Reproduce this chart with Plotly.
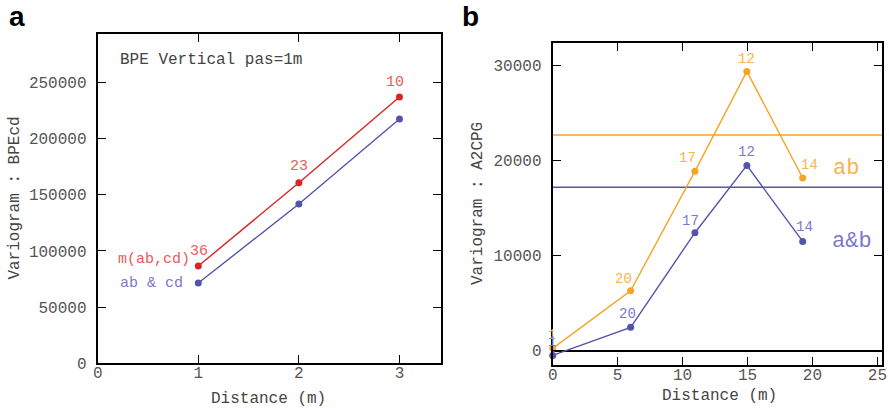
import plotly.graph_objects as go

# Panel a data
dist_a = [1, 2, 3]
m_abcd = [86500, 160700, 236900]
ab_cd = [71400, 141700, 217300]
npairs_a = ["36", "23", "10"]
ticks_a_x = [0, 1, 2, 3]
ticks_a_y = [0, 50000, 100000, 150000, 200000, 250000]

# Panel b data
dist_b = [0, 6.0, 10.95, 14.95, 19.25]
ab_b = [250, 6300, 18880, 29400, 18180]
a_and_b = [-500, 2460, 12420, 19500, 11500]
npairs_b = ["1", "20", "17", "12", "14"]
sill_ab = 22700
sill_a_and_b = 17200
ticks_b_x = [0, 5, 10, 15, 20, 25]
ticks_b_y = [0, 10000, 20000, 30000]

RED = "#dc2424"
RED_T = "#ec5a5a"
BLUE = "#5454ac"
BLUE_T = "#7a7acc"
ORANGE = "#f5a523"
ORANGE_T = "#f7b44c"
MONO = "Liberation Mono"
TICKC = "#555555"

fig = go.Figure()

fig.add_trace(go.Scatter(x=dist_a, y=ab_cd, mode="lines+markers",
                         line=dict(color=BLUE, width=1.4), marker=dict(color=BLUE, size=7),
                         xaxis="x", yaxis="y", showlegend=False))
fig.add_trace(go.Scatter(x=dist_a, y=m_abcd, mode="lines+markers",
                         line=dict(color=RED, width=1.4), marker=dict(color=RED, size=7),
                         xaxis="x", yaxis="y", showlegend=False))

fig.add_trace(go.Scatter(x=[0, 25.4], y=[sill_ab, sill_ab], mode="lines",
                         line=dict(color=ORANGE, width=1.4), xaxis="x2", yaxis="y2", showlegend=False))
fig.add_trace(go.Scatter(x=[0, 25.4], y=[sill_a_and_b, sill_a_and_b], mode="lines",
                         line=dict(color=BLUE, width=1.4), xaxis="x2", yaxis="y2", showlegend=False))
fig.add_trace(go.Scatter(x=dist_b, y=ab_b, mode="lines+markers",
                         line=dict(color=ORANGE, width=1.4), marker=dict(color=ORANGE, size=7),
                         xaxis="x2", yaxis="y2", showlegend=False, cliponaxis=False))
fig.add_trace(go.Scatter(x=dist_b, y=a_and_b, mode="lines+markers",
                         line=dict(color=BLUE, width=1.4), marker=dict(color=BLUE, size=7),
                         xaxis="x2", yaxis="y2", showlegend=False, cliponaxis=False))

ann = []
def lab(x, y, t, color, xs, ys, xr="x", yr="y", size=14, xanchor="center"):
    ann.append(dict(x=x, y=y, text=t, xref=xr, yref=yr, showarrow=False,
                    xshift=xs, yshift=ys, xanchor=xanchor, yanchor="middle",
                    font=dict(family=MONO, size=size, color=color)))

# panel a labels
shifts_a = [(1, 15), (0, 16), (-4, 15)]
for x, y, t, (xs, ys) in zip(dist_a, m_abcd, npairs_a, shifts_a):
    lab(x, y, t, RED_T, xs, ys, size=15)
lab(dist_a[0], m_abcd[0], "m(ab,cd)", RED_T, -6, 7, size=15, xanchor="right")
lab(dist_a[0], ab_cd[0], "ab &amp; cd", BLUE_T, -13, 0, size=15, xanchor="right")
lab(0.2, 269800, "BPE Vertical pas=1m", "#444444", 0, 0, size=16, xanchor="left")

# panel b labels
shifts_bo = [(-1, 13), (-7, 12), (-7, 13), (0, 12), (7, 13)]
shifts_bb = [(-1, 13), (-3, 13), (-4, 12), (0, 13), (2, 14)]
for x, y, t, (xs, ys) in zip(dist_b, ab_b, npairs_b, shifts_bo):
    lab(x, y, t, ORANGE_T, xs, ys, "x2", "y2", size=14)
for x, y, t, (xs, ys) in zip(dist_b, a_and_b, npairs_b, shifts_bb):
    lab(x, y, t, BLUE_T, xs, ys, "x2", "y2", size=14)
lab(22.57, 19130, "ab", ORANGE_T, 0, 0, "x2", "y2", size=22)
lab(23.03, 11470, "a&amp;b", BLUE_T, 0, 0, "x2", "y2", size=22)

# axis titles
def title(x, y, t, angle=0):
    ann.append(dict(x=x, y=y, xref="paper", yref="paper", text=t, showarrow=False,
                    textangle=angle, xanchor="center", yanchor="middle",
                    font=dict(family=MONO, size=16, color="#444444")))
title(15/889, 1 - 198.6/408, "Variogram : BPEcd", -90)
title(478/889, 1 - 204/408, "Variogram : A2CPG", -90)
title(268/889, 1 - 399/408, "Distance (m)")
title(719/889, 1 - 396/408, "Distance (m)")

# panel letters
for x, t in [(17/889, "a"), (470/889, "b")]:
    ann.append(dict(x=x, y=1 - 17/408, xref="paper", yref="paper", text="<b>%s</b>" % t,
                    showarrow=False, xanchor="center", yanchor="middle",
                    font=dict(family="Liberation Sans", size=28, color="black")))

axis_common = dict(showline=True, linecolor="black", linewidth=2, mirror="ticks",
                   ticks="inside", ticklen=8, tickwidth=1.3, tickcolor="black",
                   showgrid=False, zeroline=False,
                   tickfont=dict(family=MONO, size=16, color=TICKC))

fig.update_layout(
    width=889, height=408, margin=dict(l=0, r=0, t=0, b=0, autoexpand=False),
    paper_bgcolor="white", plot_bgcolor="white",
    xaxis=dict(domain=[97.7/889, 440.7/889], range=[0, 3.41],
               tickvals=ticks_a_x, ticktext=[str(v) for v in ticks_a_x],
               anchor="y", ticklabelstandoff=-7, **axis_common),
    yaxis=dict(domain=[1 - 363.3/408, 1 - 34/408], range=[0, 293000],
               tickvals=ticks_a_y, ticktext=[str(v) for v in ticks_a_y],
               anchor="x", ticklabelstandoff=6, **axis_common),
    xaxis2=dict(domain=[552.7/889, 882.3/889], range=[0, 25.38],
                tickvals=ticks_b_x, ticktext=[str(v) for v in ticks_b_x],
                anchor="y2", ticklabelstandoff=-6, **axis_common),
    yaxis2=dict(domain=[1 - 364.7/408, 1 - 42.7/408], range=[-1474, 32420],
                tickvals=ticks_b_y, ticktext=[str(v) for v in ticks_b_y],
                anchor="x2", ticklabelstandoff=6,
                **{**axis_common, "zeroline": True, "zerolinecolor": "black", "zerolinewidth": 2}),
    annotations=ann,
)

fig.write_html("out.html")
